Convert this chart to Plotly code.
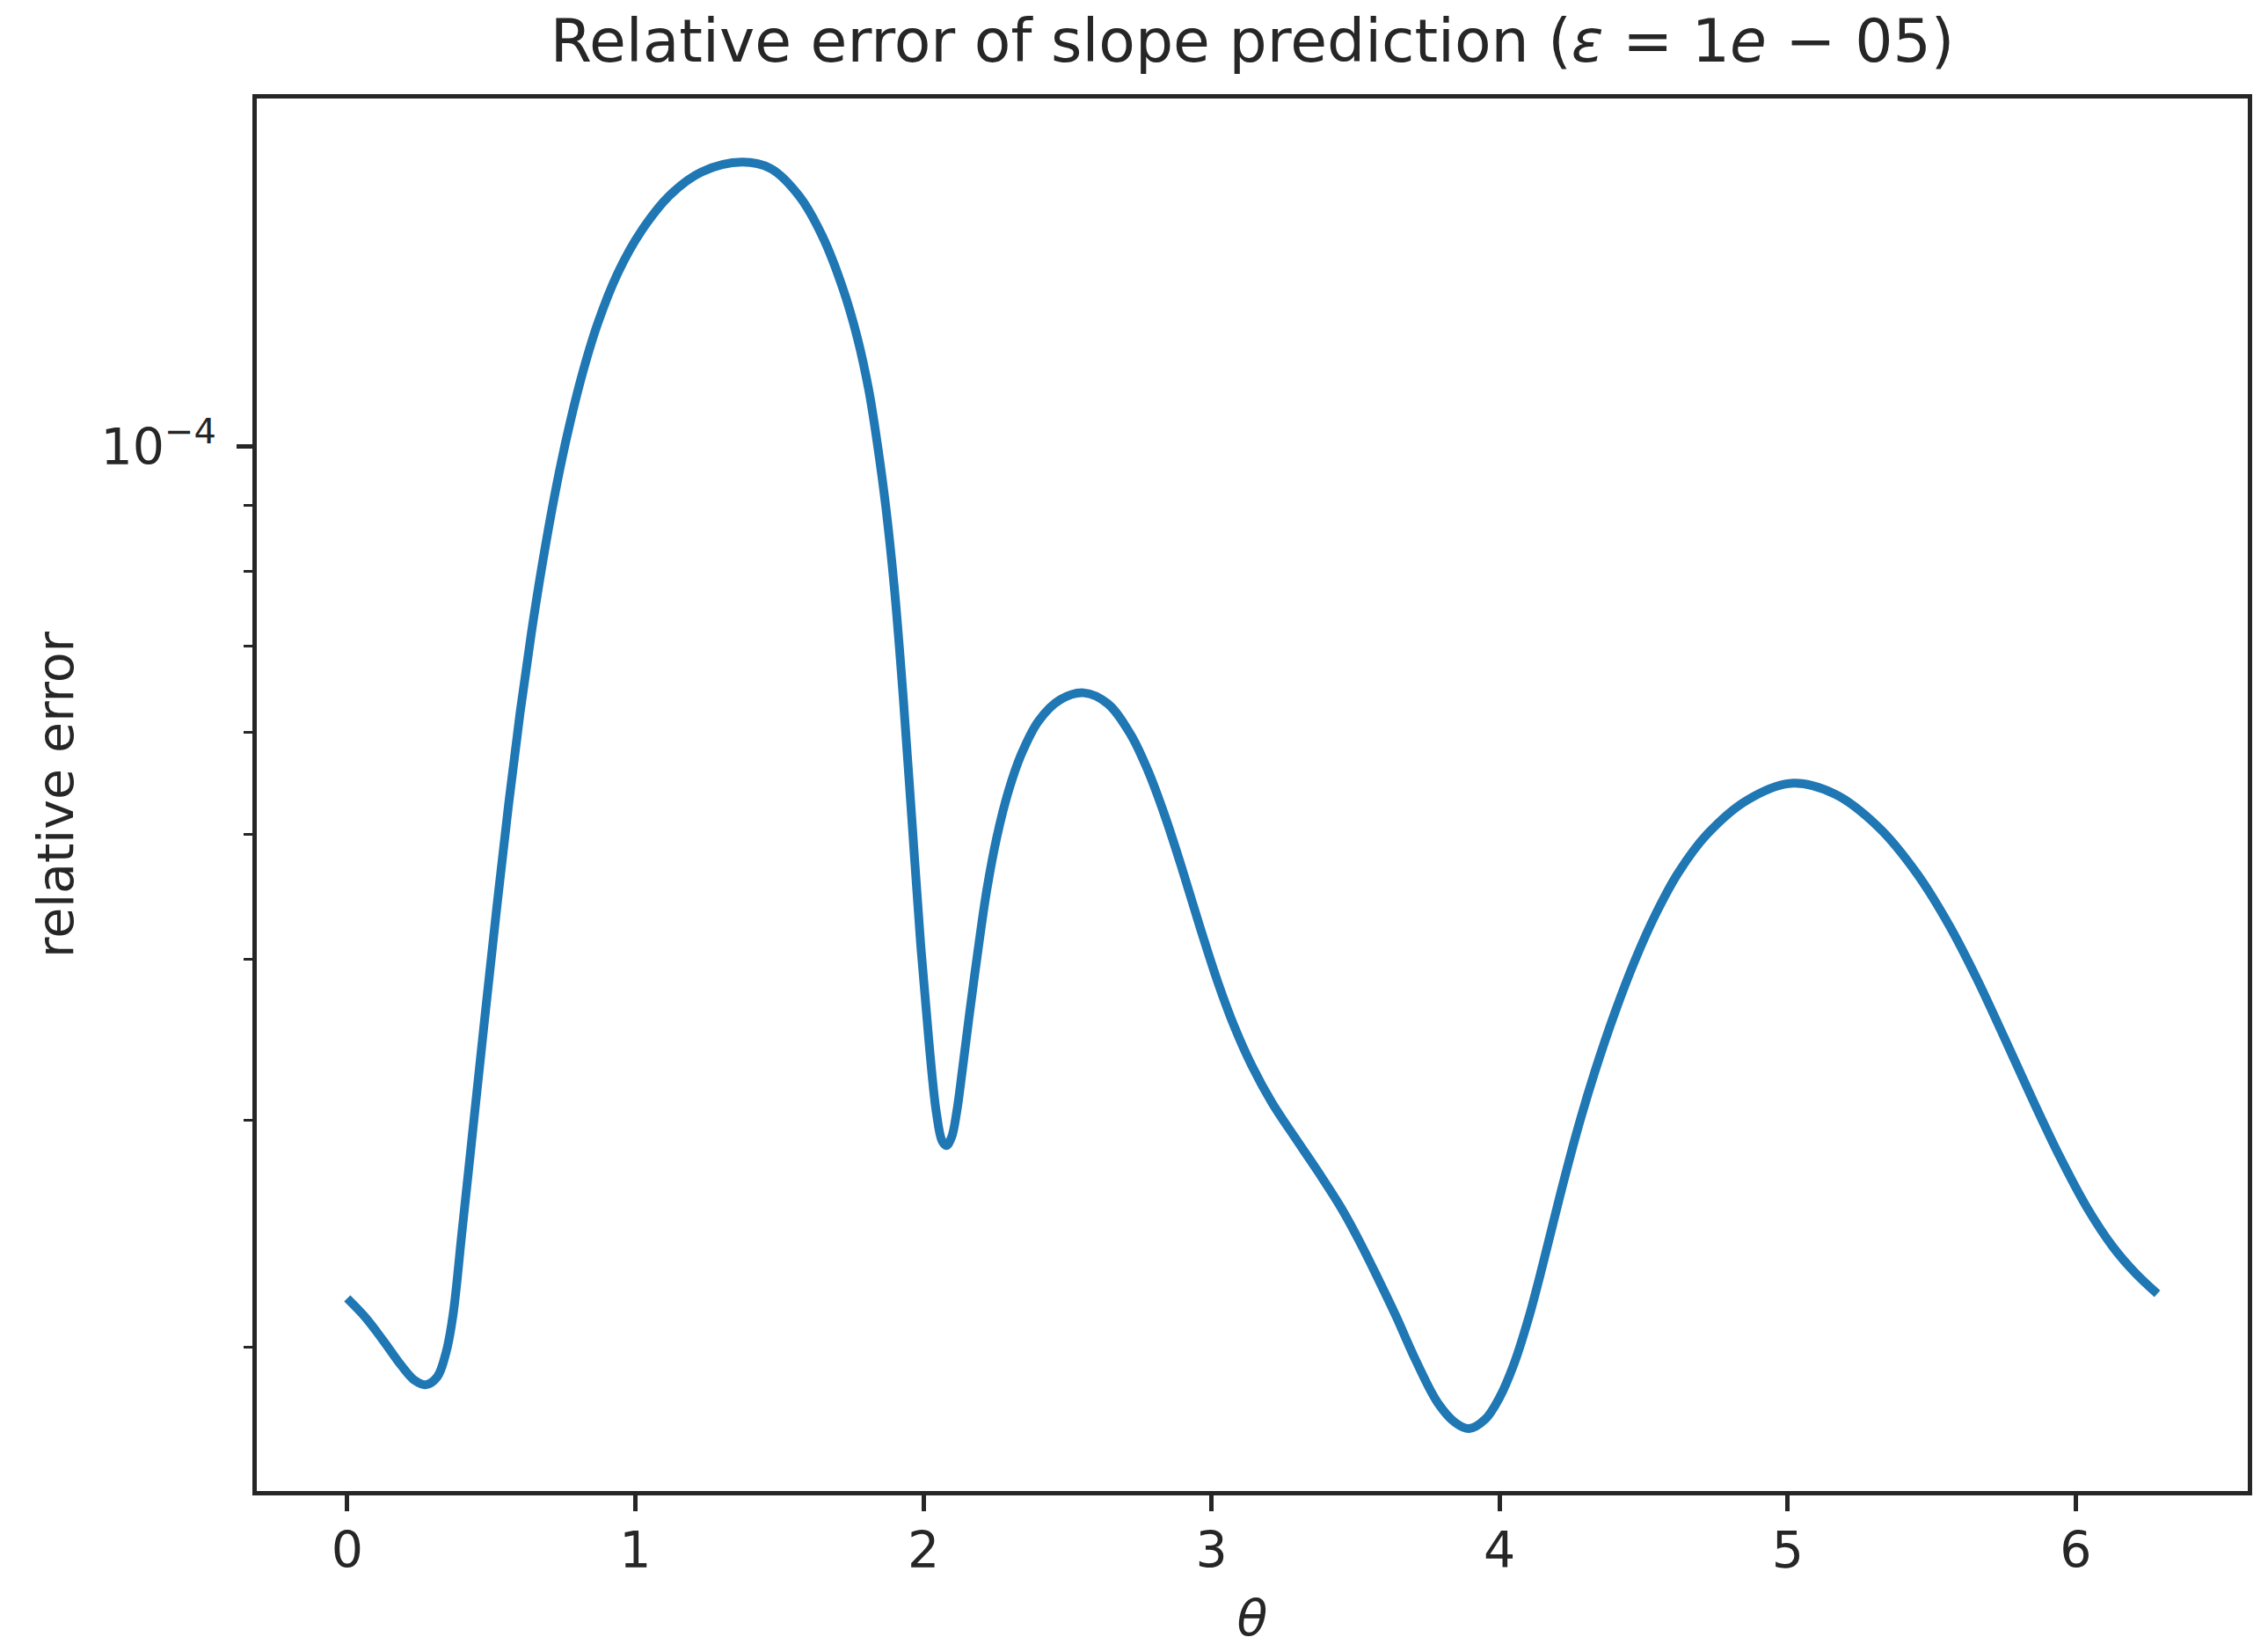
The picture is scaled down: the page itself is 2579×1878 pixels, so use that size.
import plotly.graph_objects as go

# theta values (grouped by stretch of the curve)
theta = (
    [0.000, 0.064, 0.126, 0.188, 0.235, 0.273, 0.312, 0.343]
    + [0.367, 0.398, 0.440, 0.480, 0.520, 0.560, 0.600, 0.640, 0.680, 0.720,
       0.760, 0.810, 0.870, 0.940, 1.020, 1.120, 1.230, 1.370]
    + [1.470, 1.570, 1.650, 1.720, 1.770, 1.810, 1.840, 1.870, 1.900, 1.930,
       1.960, 1.990, 2.020, 2.045, 2.065, 2.080]
    + [2.098, 2.115, 2.135, 2.160, 2.190, 2.220, 2.255, 2.295, 2.340, 2.400,
       2.475, 2.556]
    + [2.640, 2.720, 2.780, 2.840, 2.900, 2.960, 3.020, 3.080, 3.140, 3.210,
       3.290, 3.370, 3.450, 3.520, 3.580, 3.640, 3.710, 3.785, 3.847, 3.894]
    + [3.950, 4.000, 4.050, 4.100, 4.150, 4.210, 4.270, 4.330, 4.400, 4.470,
       4.540, 4.620, 4.720, 4.860, 5.012]
    + [5.164, 5.316, 5.449, 5.562, 5.657, 5.752, 5.847, 5.941, 6.036, 6.131,
       6.207, 6.283]
)

rel_error = (
    [2.183e-5, 2.109e-5, 2.023e-5, 1.936e-5, 1.885e-5, 1.871e-5, 1.897e-5, 1.982e-5]
    + [2.118e-5, 2.455e-5, 3.008e-5, 3.649e-5, 4.408e-5, 5.275e-5, 6.216e-5, 7.189e-5, 8.177e-5, 9.167e-5,
       1.0125e-4, 1.1256e-4, 1.2469e-4, 1.3646e-4, 1.4689e-4, 1.5668e-4, 1.6331e-4, 1.662e-4]
    + [1.643e-4, 1.563e-4, 1.455e-4, 1.327e-4, 1.216e-4, 1.107e-4, 1.005e-4, 8.954e-5, 7.727e-5, 6.383e-5,
       5.129e-5, 4.121e-5, 3.436e-5, 3.041e-5, 2.891e-5, 2.868e-5]
    + [2.913e-5, 3.041e-5, 3.281e-5, 3.631e-5, 4.074e-5, 4.529e-5, 4.980e-5, 5.401e-5, 5.772e-5, 6.126e-5,
       6.362e-5, 6.440e-5]
    + [6.316e-5, 5.975e-5, 5.600e-5, 5.155e-5, 4.686e-5, 4.237e-5, 3.851e-5, 3.544e-5, 3.308e-5, 3.096e-5,
       2.909e-5, 2.737e-5, 2.566e-5, 2.402e-5, 2.257e-5, 2.116e-5, 1.952e-5, 1.812e-5, 1.748e-5, 1.730e-5]
    + [1.759e-5, 1.829e-5, 1.942e-5, 2.105e-5, 2.319e-5, 2.625e-5, 2.949e-5, 3.270e-5, 3.637e-5, 3.994e-5,
       4.329e-5, 4.669e-5, 5.002e-5, 5.318e-5, 5.479e-5]
    + [5.374e-5, 5.064e-5, 4.662e-5, 4.246e-5, 3.863e-5, 3.478e-5, 3.124e-5, 2.822e-5, 2.574e-5, 2.390e-5,
       2.284e-5, 2.201e-5]
)

x_ticks = [0, 1, 2, 3, 4, 5, 6]
y_major = [1e-4]
y_major_text = ["10<sup>−4</sup>"]
y_minor = [2e-5, 3e-5, 4e-5, 5e-5, 6e-5, 7e-5, 8e-5, 9e-5]

INK = "#262626"
FONT = "DejaVu Sans"

fig = go.Figure()
fig.add_trace(go.Scatter(
    x=theta, y=rel_error, mode="lines",
    line=dict(color="#1f77b4", width=10, shape="spline", smoothing=1.0),
    showlegend=False,
))

fig.update_layout(
    width=2579, height=1878, autosize=False,
    margin=dict(l=292, r=23, t=112, b=183),
    paper_bgcolor="white", plot_bgcolor="white",
    font=dict(family=FONT, color=INK, size=57),
    title=dict(
        text="Relative error of slope prediction (<i>ε</i> = 1<i>e</i> − 05)",
        x=(292 + 2556) / 2 / 2579, xref="container", xanchor="center",
        y=1 - 46 / 1878, yref="container", yanchor="middle",
        font=dict(family=FONT, size=68, color=INK),
    ),
)

fig.update_xaxes(
    range=[-0.314, 6.597],
    tickmode="array", tickvals=x_ticks, ticktext=[str(v) for v in x_ticks],
    ticks="outside", ticklen=18, tickwidth=4.5, tickcolor=INK,
    showline=True, linewidth=4.6, linecolor=INK, mirror=True,
    showgrid=False, zeroline=False,
    tickfont=dict(family=FONT, size=57, color=INK),
    ticklabelstandoff=-4,
    title=dict(text="<i>θ</i>", font=dict(family=FONT, size=57, color=INK), standoff=26),
)

fig.update_yaxes(
    type="log", range=[-4.8104, -3.730],
    tickmode="array", tickvals=y_major, ticktext=y_major_text,
    ticks="outside", ticklen=18, tickwidth=4.5, tickcolor=INK,
    minor=dict(tickmode="array", tickvals=y_minor, ticks="outside",
               ticklen=10, tickwidth=3.4, tickcolor=INK, showgrid=False),
    showline=True, linewidth=4.6, linecolor=INK, mirror=True,
    showgrid=False, zeroline=False,
    tickfont=dict(family=FONT, size=57, color=INK),
    ticklabelstandoff=12,
    title=dict(text="relative error", font=dict(family=FONT, size=57, color=INK), standoff=14),
)

fig.write_html("out.html")
